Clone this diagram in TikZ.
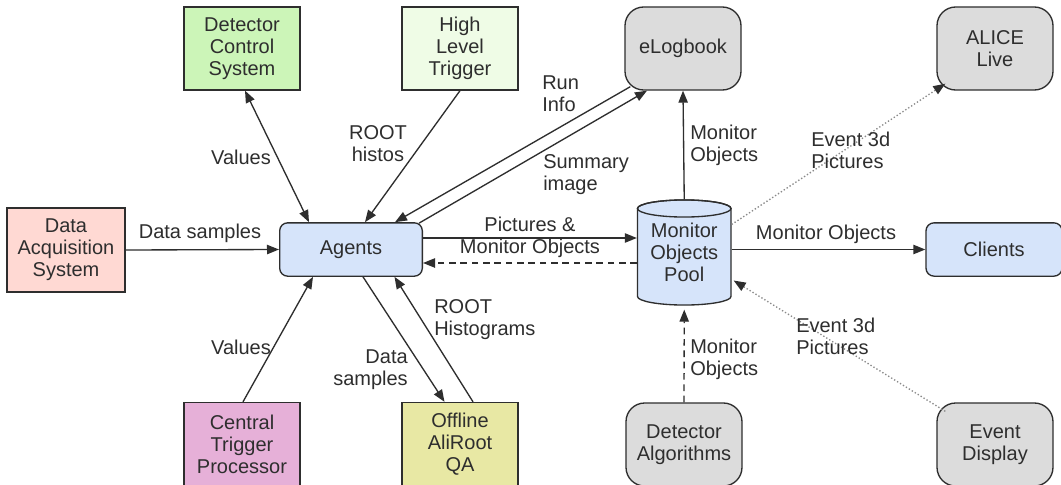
\documentclass[tikz,border=0pt]{standalone}
\usepackage{fontspec}
\setmainfont{Liberation Sans}
\usetikzlibrary{calc,arrows.meta}
\definecolor{linec}{HTML}{2E2E2E}
\definecolor{textc}{HTML}{2E2E2E}
\definecolor{dcsc}{HTML}{CCF5B8}
\definecolor{hltc}{HTML}{EFFCE6}
\definecolor{daqc}{HTML}{FFD9D3}
\definecolor{bluec}{HTML}{D6E4FA}
\definecolor{ctpc}{HTML}{E6B0D8}
\definecolor{offc}{HTML}{E8E8A4}
\definecolor{grayc}{HTML}{DCDCDC}
\definecolor{dotc}{HTML}{8A8A8A}
\newcommand{\labfont}{\fontsize{15}{16.6}\selectfont}
\tikzset{
  box/.style={draw=linec, line width=1pt, text=textc, align=center, inner sep=0pt, font=\labfont},
  sqbox/.style={box, minimum width=87pt, minimum height=62.25pt},
  roundbox/.style={box, rounded corners=14pt, fill=grayc, minimum width=87pt, minimum height=62.25pt},
  flatbox/.style={box, rounded corners=6pt, fill=bluec, minimum height=40pt},
  lbl/.style={text=textc, font=\labfont, inner sep=0pt},
  tip/.tip={Triangle[length=9pt,width=7pt]},
  conn/.style={draw=linec, line width=1pt, -tip},
  dconn/.style={conn, dash pattern=on 5pt off 3.5pt},
  pconn/.style={draw=dotc, line width=1pt, dash pattern=on 1pt off 1.6pt, -{Triangle[length=9pt,width=7pt,color=linec,fill=linec]}},
}
\begin{document}
\begin{tikzpicture}[x=0.75pt,y=-0.75pt]
\path[use as bounding box] (0,0) rectangle (1061,485);
\clip (0,0) rectangle (1061,485);
\fill[white] (0,0) rectangle (1061,485);

% nodes
\node[sqbox, fill=dcsc] (dcs) at (242,48.5) {Detector\\Control\\System};
\node[sqbox, fill=hltc] (hlt) at (460,48.5) {High\\Level\\Trigger};
\node[sqbox, fill=daqc, minimum width=88.5pt, minimum height=63pt] (daq) at (66,250) {Data\\Acquisition\\System};
\node[flatbox, minimum width=107pt] (agents) at (351,249.5) {Agents};
\node[sqbox, fill=ctpc] (ctp) at (242,444) {Central\\Trigger\\Processor};
\node[sqbox, fill=offc] (off) at (460,444) {Offline\\AliRoot\\QA};
\node[roundbox] (elog) at (683,48.5) {eLogbook};
\node[roundbox] (alice) at (995,48.5) {ALICE\\Live};
\node[flatbox, minimum width=102pt] (clients) at (994,249.5) {Clients};
\node[roundbox] (detalg) at (684,444.5) {Detector\\Algorithms};
\node[roundbox] (evd) at (995,444.5) {Event\\Display};

% cylinder (Monitor Objects Pool)
\filldraw[draw=linec, fill=bluec, line width=1pt]
  (637.5,208.5) -- (637.5,296.5)
  arc[start angle=180, end angle=360, x radius=35.06pt, y radius=6.4pt]
  -- (731,208.5)
  arc[start angle=0, end angle=180, x radius=35.06pt, y radius=6.4pt] -- cycle;
\draw[draw=linec, line width=1pt] (684.25,208.5) ellipse[x radius=35.06pt, y radius=6.4pt];
\node[box, draw=none, minimum width=70.1pt, minimum height=78.75pt] (mop) at (684.25,252.5) {Monitor\\Objects\\Pool};

% connectors
\draw[conn, tip-tip] ($(dcs.south)+(3,0)$) -- ($(agents.north)+(-42,0)$);
\draw[conn] (hlt.south) -- ($(agents.north)+(14,0)$);
\draw[conn] ($(elog.south west)+(6,-4)$) -- ($(agents.north)+(44,0)$);
\draw[conn] ($(agents.north east)+(-4,1)$) -- ($(elog.south)+(-36,0)$);
\draw[conn] (daq.east) -- (agents.west);
\draw[conn] ($(agents.east)+(0,-11.5)$) -- ($(mop.west)+(0,-14.5)$);
\draw[dconn] ($(mop.west)+(0,10.5)$) -- ($(agents.east)+(0,13.5)$);
\draw[conn] ($(ctp.north)+(1,0)$) -- ($(agents.south)+(-38,0)$);
\draw[conn] ($(agents.south)+(12,0)$) -- ($(off.north)+(-15.5,0)$);
\draw[conn] ($(off.north)+(13,0)$) -- ($(agents.south)+(43.5,0)$);
\draw[conn] (mop.north) -- (elog.south);
\draw[conn] ($(mop.east)+(0,-3)$) -- (clients.west);
\draw[dconn] (detalg.north) -- ($(mop.south)+(0,4)$);
\draw[pconn] ($(mop.east)+(0,-28)$) -- ($(alice.south west)+(9,-7)$);
\draw[pconn] ($(evd.north west)+(9,9)$) -- ($(mop.east)+(2,28)$);

% labels
\node[lbl] (l1) at (241,157) {Values};
\node[lbl, align=center] (l2) at (378,144) {ROOT\\histos};
\node[lbl] (l3) at (200,233) {Data samples};
\node[lbl, align=left, anchor=west] (l4) at (542,94) {Run\\Info};
\node[lbl, align=left, anchor=west] (l5) at (543,175) {Summary\\image};
\node[lbl, align=center] (l6) at (530,237.5) {Pictures \&\\Monitor Objects};
\node[lbl, align=left, anchor=west] (l7) at (690,145) {Monitor\\Objects};
\node[lbl, align=left, anchor=west] (l8) at (811,150) {Event 3d\\Pictures};
\node[lbl] (l9) at (826,234) {Monitor Objects};
\node[lbl] (l10) at (241,347) {Values};
\node[lbl, align=right, anchor=east] (l11) at (408,370) {Data\\samples};
\node[lbl, align=left, anchor=west] (l12) at (434,320) {ROOT\\Histograms};
\node[lbl, align=left, anchor=west] (l13) at (690,359) {Monitor\\Objects};
\node[lbl, align=left, anchor=west] (l14) at (796,336) {Event 3d\\Pictures};
\end{tikzpicture}
\end{document}
